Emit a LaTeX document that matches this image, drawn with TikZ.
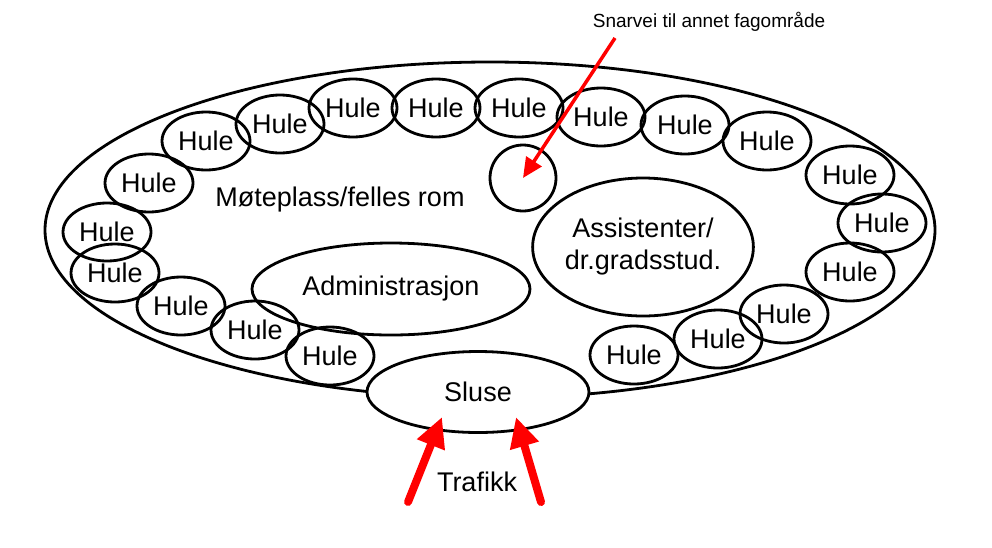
\documentclass[tikz,border=0pt]{standalone}
\usepackage{fontspec}
\setmainfont{Liberation Sans}
\usetikzlibrary{arrows.meta, shapes.geometric}

\begin{document}
\begin{tikzpicture}[
  x=1pt, y=-1pt,
  every node/.style={font=\fontsize{27}{32}\selectfont},
  omr/.style={ellipse, draw, line width=2.8pt, inner sep=0pt},
  hule/.style={omr, minimum width=88pt, minimum height=58pt},
  rodpil/.style={-{Triangle[length=30pt, width=28pt]}, red, line width=8pt, line cap=round},
  tynnpil/.style={-{Triangle[length=20pt, width=18pt]}, red, line width=3.5pt}
]
\useasboundingbox (0,0) rectangle (992,547);
\node[omr, minimum width=890pt, minimum height=336pt] (fag) at (490,230) {};
\node[omr, fill=white, minimum width=222pt, minimum height=81pt] (sluse) at (478,392) {Sluse};
\node (mote) at (340,200) {Møteplass/felles rom};
\node[omr, minimum width=278pt, minimum height=92pt] (admin) at (391,289) {Administrasjon};
\node[omr, minimum width=206pt, minimum height=138pt, align=center] (assist) at (643,247) {Assistenter/\\dr.gradsstud.};
\node[omr, minimum width=66pt, minimum height=66pt] (snarveisirkel) at (523,178) {};
\node[hule] (h1) at (206,141) {Hule};
\node[hule] (h2) at (280,124) {Hule};
\node[hule] (h3) at (353,108) {Hule};
\node[hule] (h4) at (436,108) {Hule};
\node[hule] (h5) at (519,108) {Hule};
\node[hule] (h6) at (601,117) {Hule};
\node[hule] (h7) at (685,125) {Hule};
\node[hule] (h8) at (767,141) {Hule};
\node[hule] (h9) at (850,175) {Hule};
\node[hule] (h10) at (882,223) {Hule};
\node[hule] (h11) at (850,272) {Hule};
\node[hule] (h12) at (784,314) {Hule};
\node[hule] (h13) at (718,339) {Hule};
\node[hule] (h14) at (634,355) {Hule};
\node[hule] (h15) at (149,183) {Hule};
\node[hule] (h16) at (107,232) {Hule};
\node[hule] (h17) at (115,273) {Hule};
\node[hule] (h18) at (181,306) {Hule};
\node[hule] (h19) at (255,330) {Hule};
\node[hule] (h20) at (330,356) {Hule};
\node (trafikk) at (477,482) {Trafikk};
\node[font=\fontsize{19}{22}\selectfont] (snarvei) at (709,22) {Snarvei til annet fagområde};
\coordinate (snarveistart) at (615,38);
\coordinate (trafv) at (408,502);
\coordinate (trafh) at (541,502);
\coordinate (sluseinnv) at (442,417);
\coordinate (sluseinnh) at (516,417);
\draw[tynnpil] (snarveistart) -- (snarveisirkel.center);
\draw[rodpil] (trafv) -- (sluseinnv);
\draw[rodpil] (trafh) -- (sluseinnh);
\end{tikzpicture}
\end{document}
